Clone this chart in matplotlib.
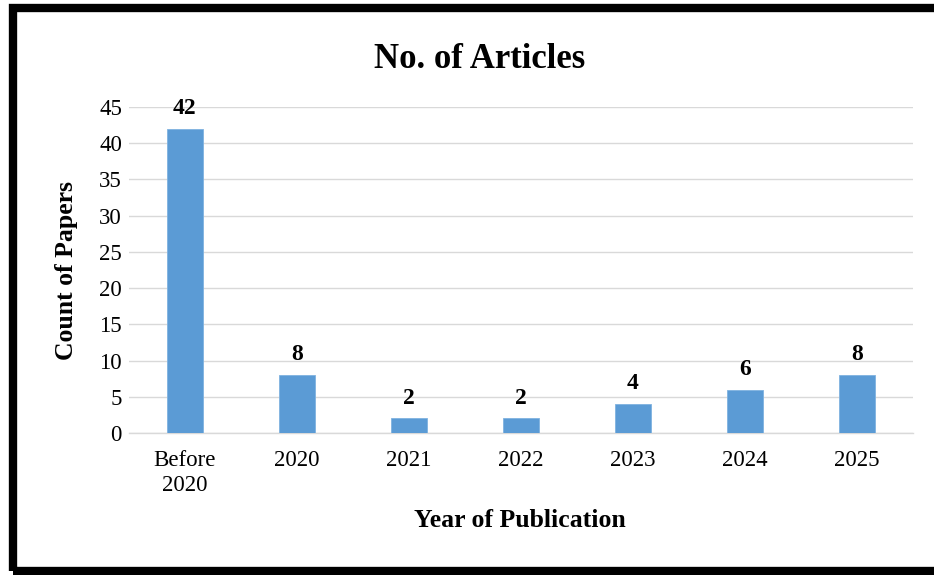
import matplotlib.pyplot as plt
from matplotlib.patches import Rectangle

categories = ['Before\n2020', '2020', '2021', '2022', '2023', '2024', '2025']
counts = [42, 8, 2, 2, 4, 6, 8]

plt.rcParams['font.family'] = ['Liberation Serif', 'DejaVu Serif']

fig = plt.figure(figsize=(9.34, 5.75), dpi=100)
ax = fig.add_axes([0.138, 0.247, 0.8395, 0.567])

x = range(len(categories))
ax.bar(x, counts, width=0.32, color='#5B9BD5', edgecolor='#7FB2E0', linewidth=0.6, zorder=3)

# value labels above bars
for xi, v in zip(x, counts):
    ax.annotate(str(v), (xi, v), xytext=(0, 7), textcoords='offset points',
                ha='center', va='bottom', fontsize=17, fontweight='bold')

ax.set_xlim(-0.5, len(categories) - 0.5)
ax.set_ylim(0, 45)
ax.set_yticks(range(0, 46, 5))
ax.set_xticks(list(x))
ax.set_xticklabels(categories, fontsize=16.5, linespacing=1.3)
ax.tick_params(axis='y', labelsize=16.5, length=0, pad=5)
ax.tick_params(axis='x', length=0, pad=12)
ax.grid(axis='y', color='#D9D9D9', linewidth=1, zorder=0)
for s in ['top', 'right', 'left']:
    ax.spines[s].set_visible(False)
ax.spines['bottom'].set_color('#D9D9D9')
ax.spines['bottom'].set_linewidth(1)

fig.text(0.513, 0.896, 'No. of Articles', ha='center', va='center', fontsize=25, fontweight='bold')
fig.text(0.071, 0.53, 'Count of Papers', ha='center', va='center', rotation=90, fontsize=18.5, fontweight='bold')
fig.text(0.557, 0.094, 'Year of Publication', ha='center', va='center', fontsize=18.5, fontweight='bold')

# black frame around the chart (right side runs off the image)
fig.patches.append(Rectangle((13 / 934, 4 / 575), 1.1, 563 / 575, transform=fig.transFigure,
                             fill=False, edgecolor='black', linewidth=6, figure=fig))

fig.savefig('out.png', dpi=100)
